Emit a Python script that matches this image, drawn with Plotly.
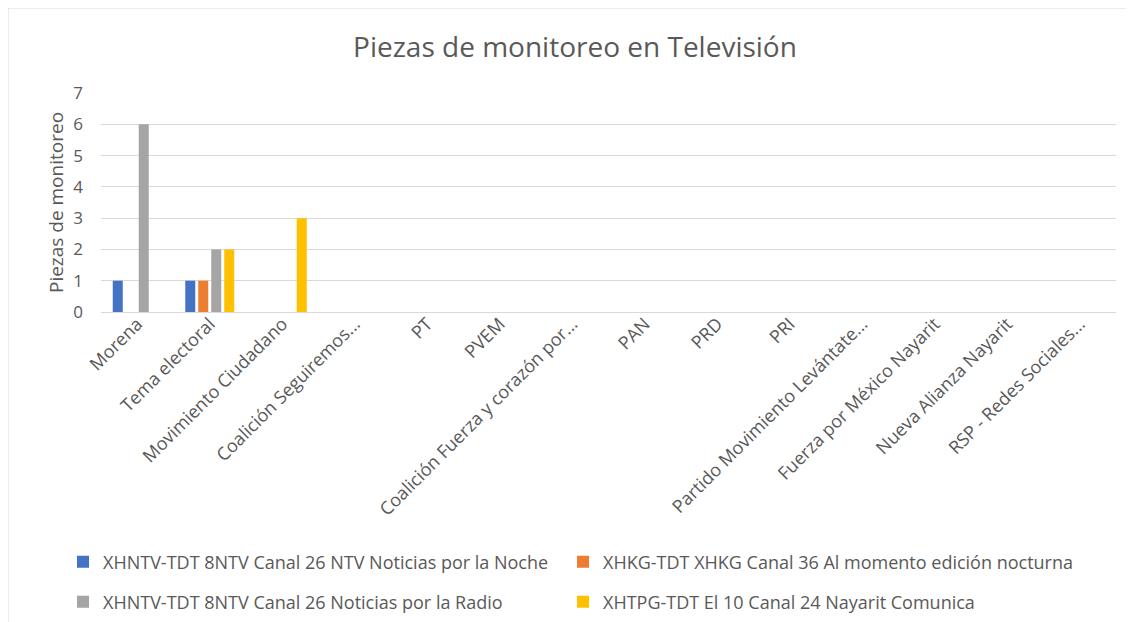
import plotly.graph_objects as go

categories = [
    "Morena", "Tema electoral", "Movimiento Ciudadano", "Coalición Seguiremos...",
    "PT", "PVEM", "Coalición Fuerza y corazón por...", "PAN", "PRD", "PRI",
    "Partido Movimiento Levántate...", "Fuerza por México Nayarit",
    "Nueva Alianza Nayarit", "RSP - Redes Sociales...",
]
series_names = [
    "XHNTV-TDT 8NTV Canal 26 NTV Noticias por la Noche",
    "XHKG-TDT XHKG Canal 36 Al momento edición nocturna",
    "XHNTV-TDT 8NTV Canal 26 Noticias por la Radio",
    "XHTPG-TDT El 10 Canal 24 Nayarit Comunica",
]
s1 = [1, 1, 0, 0, 0, 0, 0, 0, 0, 0, 0, 0, 0, 0]
s2 = [0, 1, 0, 0, 0, 0, 0, 0, 0, 0, 0, 0, 0, 0]
s3 = [6, 2, 0, 0, 0, 0, 0, 0, 0, 0, 0, 0, 0, 0]
s4 = [0, 2, 3, 0, 0, 0, 0, 0, 0, 0, 0, 0, 0, 0]
colors = ["#4472C4", "#ED7D31", "#A5A5A5", "#FFC000"]
y_ticks = [0, 1, 2, 3, 4, 5, 6, 7]

# page body has an 8px margin: work in coordinates relative to (8, 8)
OFF = 8
W, H = 1134 - OFF, 622 - OFF
L, R, T, B = 101 - OFF, 18, 93 - OFF, 310
pw, ph = W - L - R, H - T - B

def px2x(p):
    return (p - OFF - L) / pw

def px2y(p):
    return 1 - (p - OFF - T) / ph

FONT = "Open Sans"
TXT = "#595959"

fig = go.Figure()
legends = ["legend", "legend2", "legend3", "legend4"]
for name, vals, col, lg in zip(series_names, [s1, s2, s3, s4], colors, legends):
    fig.add_trace(go.Bar(x=categories, y=vals, name=name, marker_color=col,
                         marker_line_width=0, legend=lg, showlegend=True))

leg_common = dict(orientation="h", xanchor="left", yanchor="middle", visible=True,
                  font=dict(family=FONT, size=18, color=TXT),
                  bgcolor="rgba(0,0,0,0)", itemwidth=30)

fig.update_layout(
    width=W, height=H, showlegend=True,
    margin=dict(l=L, r=R, t=T, b=B, autoexpand=False),
    paper_bgcolor="white", plot_bgcolor="white",
    barmode="group", bargap=0.283, bargroupgap=0.23,
    title=dict(text="Piezas de monitoreo en Televisión", x=px2x(575), xref="paper",
               xanchor="center", y=1 - (47 - OFF) / H, yanchor="middle",
               font=dict(family=FONT, size=28, color=TXT)),
    font=dict(family=FONT, color=TXT),
    legend=dict(x=px2x(63), y=px2y(562), **leg_common),
    legend2=dict(x=px2x(563), y=px2y(562), **leg_common),
    legend3=dict(x=px2x(63), y=px2y(602), **leg_common),
    legend4=dict(x=px2x(563), y=px2y(602), **leg_common),
    xaxis=dict(type="category", categoryorder="array", categoryarray=categories,
               range=[-0.5, len(categories) - 0.5], autorange=False,
               tickangle=-45, tickfont=dict(family=FONT, size=18, color=TXT),
               ticklabelstandoff=-3,
               showgrid=False, showline=False, ticks="",
               zeroline=False, automargin=False),
    yaxis=dict(range=[0, 7], tickvals=y_ticks, tickfont=dict(family=FONT, size=17, color=TXT),
               showgrid=True, gridcolor="#D9D9D9", gridwidth=1, zeroline=True,
               zerolinecolor="#D9D9D9", zerolinewidth=1, showline=False, ticks="",
               ticklabelstandoff=17, automargin=False,
               title=dict(text="Piezas de monitoreo", font=dict(family=FONT, size=19, color=TXT),
                          standoff=4)),
    shapes=[dict(type="rect", xref="paper", yref="paper",
                 x0=px2x(8), x1=px2x(1160), y0=px2y(650), y1=px2y(8),
                 line=dict(color="#D9D9D9", width=1), fillcolor="rgba(0,0,0,0)", layer="below")],
)

fig.write_html("out.html")
